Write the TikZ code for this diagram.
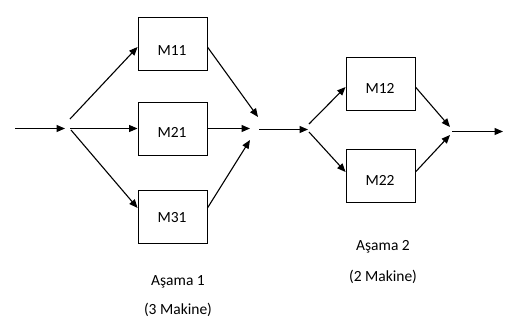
\documentclass[tikz,border=0pt]{standalone}
\usepackage{fontspec}
\setmainfont{Carlito}
\usetikzlibrary{arrows.meta}
\begin{document}
\begin{tikzpicture}[x=1pt,y=-1pt,
  mbox/.style={draw,line width=0.9pt,minimum width=69pt,minimum height=53pt,inner sep=0pt},
  lbl/.style={font=\fontsize{15.5}{18}\selectfont,inner sep=0pt},
  arr/.style={line width=1.1pt,-{Triangle[length=8.5pt,width=7pt]}}]
\useasboundingbox (0,0) rectangle (507,327);
\node[mbox] (m11) at (172.5,44) {};
\node[mbox] (m21) at (172.5,129) {};
\node[mbox] (m31) at (172.5,217) {};
\node[mbox] (m12) at (380.5,83.5) {};
\node[mbox] (m22) at (380.5,176) {};
\node[lbl] (t11) at (172,51) {M11};
\node[lbl] (t21) at (172,132) {M21};
\node[lbl] (t31) at (172,218) {M31};
\node[lbl] (t12) at (380,88) {M12};
\node[lbl] (t22) at (380,180) {M22};
\coordinate (in) at (15,128.5);
\coordinate (s1) at (70,128.5);
\coordinate (j1) at (259,129.5);
\coordinate (s2) at (308,129.5);
\coordinate (j2) at (452,131.5);
\coordinate (out) at (503,131.5);
\draw[arr] (in) -- (65,128.5);
\draw[arr] (70,119) -- (m11.west |- 0,47);
\draw[arr] (s1) -- (m21.west |- s1);
\draw[arr] (71,130) -- (m31.west |- 0,208);
\draw[arr] (m11.east |- 0,47) -- (258,117);
\draw[arr] (m21.east |- s1) -- (250,128.5);
\draw[arr] (m31.east |- 0,208) -- (250,140);
\draw[arr] (j1) -- (s2);
\draw[arr] (309,124) -- (m12.west |- 0,87);
\draw[arr] (309,132) -- (m22.west |- 0,172);
\draw[arr] (m12.east |- 0,87) -- (450,127);
\draw[arr] (m22.east |- 0,172) -- (450,135);
\draw[arr] (j2) -- (out);
\node[lbl] (a1) at (178,282) {Aşama 1};
\node[lbl] (b1) at (178,310) {(3 Makine)};
\node[lbl] (a2) at (383,247) {Aşama 2};
\node[lbl] (b2) at (383,277) {(2 Makine)};
\end{tikzpicture}
\end{document}
